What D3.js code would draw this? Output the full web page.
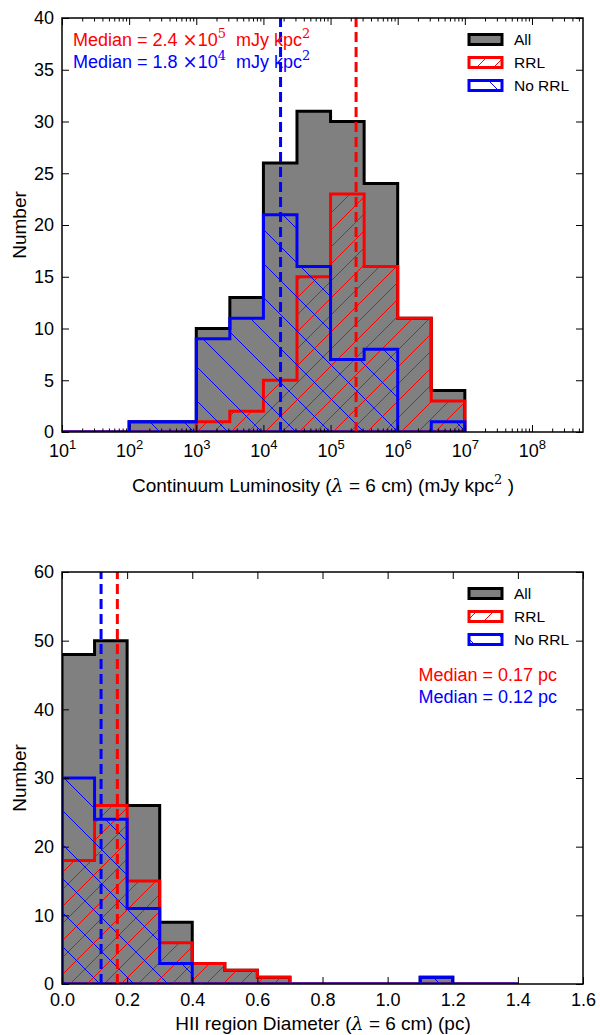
<!DOCTYPE html>
<html><head><meta charset="utf-8">
<script src="https://cdn.jsdelivr.net/npm/d3@7"></script>
<style>
body{margin:0;background:#fff}
text{font-family:"Liberation Sans",Arial,sans-serif}
</style>
</head><body>
<svg id="c" width="600" height="1035"></svg>
<script>
// ---------- DATA ----------
// Panel 1: continuum luminosity, bin edges as log10 exponents
const lumEdgeExp = [1, 1.5, 2, 2.5, 3, 3.5, 4, 4.5, 5, 5.5, 6, 6.5, 7];
const lumAll   = [0, 0, 1, 1, 10, 13, 26, 31, 30, 24, 11, 4];
const lumRRL   = [0, 0, 0, 0, 1, 2, 5, 15, 23, 16, 11, 3];
const lumNoRRL = [0, 0, 1, 1, 9, 11, 21, 16, 7, 8, 0, 1];
const lumMedianRRL = 2.4e5;
const lumMedianNoRRL = 1.8e4;
const lumMajorExp = [1, 2, 3, 4, 5, 6, 7, 8];
const lumYTicks = [0, 5, 10, 15, 20, 25, 30, 35, 40];

// Panel 2: HII region diameter (pc)
const diamEdges  = [0, 0.1, 0.2, 0.3, 0.4, 0.5, 0.6, 0.7, 0.8, 0.9, 1.0, 1.1, 1.2, 1.3, 1.4];
const diamAll    = [48, 50, 26, 9, 3, 2, 1, 0, 0, 0, 0, 1, 0, 0];
const diamRRL    = [18, 26, 15, 6, 3, 2, 1, 0, 0, 0, 0, 0, 0, 0];
const diamNoRRL  = [30, 24, 11, 3, 0, 0, 0, 0, 0, 0, 0, 1, 0, 0];
const diamMedianRRL = 0.17;
const diamMedianNoRRL = 0.12;
const diamXTicks = [0, 0.2, 0.4, 0.6, 0.8, 1.0, 1.2, 1.4, 1.6];
const diamYTicks = [0, 10, 20, 30, 40, 50, 60];

const legendLabels = ["All", "RRL", "No RRL"];

// ---------- STYLE ----------
const RED = "#ff0000", BLUE = "#0000ff", GRAY = "#808080";
const SERIF = "'DejaVu Serif', 'Liberation Serif', serif";

const svg = d3.select("#c");
const defs = svg.append("defs");

function hatch(id, color, s, dir) {
  const p = defs.append("pattern").attr("id", id)
    .attr("patternUnits", "userSpaceOnUse").attr("width", s).attr("height", s);
  const d = dir === "/"
    ? `M-1,1 l2,-2 M0,${s} l${s},${-s} M${s-1},${s+1} l2,-2`
    : `M-1,${s-1} l2,2 M0,0 l${s},${s} M${s-1},-1 l2,2`;
  p.append("path").attr("d", d).attr("stroke", color).attr("stroke-width", 1).attr("fill", "none");
}
hatch("hRed", RED, 17, "/");
hatch("hBlue", BLUE, 34, "\\");

function stepPath(edges, vals, x, y) {
  let d = `M${x(edges[0])},${y(0)}`;
  vals.forEach((v, i) => {
    d += `L${x(edges[i])},${y(v)}L${x(edges[i+1])},${y(v)}`;
  });
  d += `L${x(edges[edges.length-1])},${y(0)}Z`;
  return d;
}

function panel(o) {
  const {L, R, T, B} = o.box;
  const g = svg.append("g");
  const cid = "clip" + o.id;
  defs.append("clipPath").attr("id", cid).append("rect")
    .attr("x", L).attr("y", T).attr("width", R - L).attr("height", B - T);
  const x = o.x, y = o.y;
  const series = [
    {vals: o.all, fill: GRAY, stroke: "#000"},
    {vals: o.rrl, fill: "url(#hRed)", stroke: RED},
    {vals: o.norrl, fill: "url(#hBlue)", stroke: BLUE}
  ];
  const hg = g.append("g").attr("clip-path", `url(#${cid})`);
  series.forEach(s => {
    hg.append("path").attr("d", stepPath(o.edges, s.vals, x, y))
      .attr("fill", s.fill).attr("stroke", s.stroke).attr("stroke-width", 3)
      .attr("stroke-linejoin", "miter");
  });
  // medians (drawn from bottom upward)
  [[o.medRRL, RED], [o.medNoRRL, BLUE]].forEach(([m, c]) => {
    hg.append("line").attr("x1", x(m)).attr("x2", x(m))
      .attr("y1", y.range()[0]).attr("y2", y.range()[1])
      .attr("stroke", c).attr("stroke-width", 3).attr("stroke-dasharray", "10,5");
  });
  // axes
  const tk = 7;
  const ax = (gen, tx, ty) => {
    const a = g.append("g").attr("transform", `translate(${tx},${ty})`).call(gen);
    a.select(".domain").remove();
    a.selectAll("line").attr("stroke", "#000").attr("stroke-width", 1);
    return a;
  };
  const bottom = ax(d3.axisBottom(x).tickValues(o.xTicks).tickSizeInner(-tk).tickSizeOuter(0).tickPadding(10).tickFormat(o.xFmt || null), 0, B);
  ax(d3.axisTop(x).tickValues(o.xTicks).tickSizeInner(-tk).tickSizeOuter(0).tickFormat(""), 0, T);
  if (o.minor) {
    ax(d3.axisBottom(x).tickValues(o.minor).tickSizeInner(-tk/2).tickSizeOuter(0).tickFormat(""), 0, B);
    ax(d3.axisTop(x).tickValues(o.minor).tickSizeInner(-tk/2).tickSizeOuter(0).tickFormat(""), 0, T);
  }
  const left = ax(d3.axisLeft(y).tickValues(o.yTicks).tickSizeInner(-tk).tickSizeOuter(0).tickPadding(8), L, 0);
  ax(d3.axisRight(y).tickValues(o.yTicks).tickSizeInner(-tk).tickSizeOuter(0).tickFormat(""), R, 0);
  left.selectAll("text").attr("font-size", 18).attr("font-family", "Liberation Sans, Arial, sans-serif").attr("fill", "#000");
  bottom.selectAll("text").attr("font-size", 18).attr("font-family", "Liberation Sans, Arial, sans-serif").attr("fill", "#000");
  if (o.supLabels) {
    bottom.selectAll("text").each(function(d) {
      const t = d3.select(this);
      const e = Math.round(Math.log10(d));
      t.text(null).attr("dy", null).attr("y", o.xLabelBase);
      t.append("tspan").text("10");
      t.append("tspan").attr("font-size", 13).attr("dy", -8).text(e);
    });
  } else {
    bottom.selectAll("text").attr("dy", null).attr("y", o.xLabelBase);
  }
  // frame
  g.append("rect").attr("x", L).attr("y", T).attr("width", R - L).attr("height", B - T)
    .attr("fill", "none").attr("stroke", "#000").attr("stroke-width", 1.5);
  // y label
  g.append("text").attr("transform", `translate(26,${(T + B) / 2}) rotate(-90)`)
    .attr("text-anchor", "middle").attr("font-size", 19).text("Number");
  // legend
  const fills = [GRAY, "url(#hRed)", "url(#hBlue)"];
  const strokes = ["#000", RED, BLUE];
  const offs = [21.5, 44.5, 67.5];
  legendLabels.forEach((lab, i) => {
    const cy = T + offs[i];
    g.append("rect").attr("x", 469).attr("y", cy - 5).attr("width", 33).attr("height", 10)
      .attr("fill", fills[i]).attr("stroke", strokes[i]).attr("stroke-width", 3);
    g.append("text").attr("x", 514).attr("y", cy + 5.5).attr("font-size", 15.5).text(lab);
  });
  return g;
}

// ---------- PANEL 1 ----------
const box1 = {L: 62, R: 583, T: 18, B: 432};
const x1 = d3.scaleLog().domain([10, Math.pow(10, 8.76)]).range([box1.L, box1.R]);
const y1 = d3.scaleLinear().domain([0, 40]).range([box1.B, box1.T]);
const lumMajor = lumMajorExp.map(e => Math.pow(10, e));
const lumMinor = x1.ticks(10).filter(v => Math.abs(Math.log10(v) - Math.round(Math.log10(v))) > 1e-6);
const g1 = panel({
  id: 1, box: box1, x: x1, y: y1,
  edges: lumEdgeExp.map(e => Math.pow(10, e)),
  all: lumAll, rrl: lumRRL, norrl: lumNoRRL,
  medRRL: lumMedianRRL, medNoRRL: lumMedianNoRRL,
  xTicks: lumMajor, minor: lumMinor, yTicks: lumYTicks,
  supLabels: true, xLabelBase: 25
});
// x label panel 1
{
  const t = g1.append("text").attr("x", 323).attr("y", 492).attr("text-anchor", "middle")
    .attr("font-size", 19).attr("xml:space", "preserve");
  t.append("tspan").text("Continuum Luminosity (");
  t.append("tspan").attr("font-family", SERIF).attr("font-style", "italic").text("λ");
  t.append("tspan").text(" = 6 cm) (mJy kpc");
  t.append("tspan").attr("font-size", 13).attr("dy", -8).attr("font-family", SERIF).text("2");
  t.append("tspan").attr("dy", 8).text(" )");
}
// median annotations panel 1
function medText(g, xpos, ybase, color, num, exp) {
  const t = g.append("text").attr("x", xpos).attr("y", ybase).attr("fill", color)
    .attr("font-size", 18).attr("xml:space", "preserve");
  t.append("tspan").text(`Median = ${num} `);
  t.append("tspan").attr("font-family", SERIF).text("×");
  t.append("tspan").text("10");
  t.append("tspan").attr("font-size", 13).attr("dy", -8).attr("font-family", SERIF).text(exp);
  t.append("tspan").attr("dy", 8).text("  mJy kpc");
  t.append("tspan").attr("font-size", 13).attr("dy", -8).attr("font-family", SERIF).text("2");
}
medText(g1, 73, 46, RED, "2.4", "5");
medText(g1, 73, 68, BLUE, "1.8", "4");

// ---------- PANEL 2 ----------
const box2 = {L: 62, R: 583, T: 572, B: 984};
const x2 = d3.scaleLinear().domain([0, 1.6]).range([box2.L, box2.R]);
const y2 = d3.scaleLinear().domain([0, 60]).range([box2.B, box2.T]);
const g2 = panel({
  id: 2, box: box2, x: x2, y: y2,
  edges: diamEdges, all: diamAll, rrl: diamRRL, norrl: diamNoRRL,
  medRRL: diamMedianRRL, medNoRRL: diamMedianNoRRL,
  xTicks: diamXTicks, yTicks: diamYTicks, xFmt: d3.format(".1f"),
  supLabels: false, xLabelBase: 22
});
{
  const t = g2.append("text").attr("x", 323).attr("y", 1030).attr("text-anchor", "middle")
    .attr("font-size", 19).attr("xml:space", "preserve");
  t.append("tspan").text("HII region Diameter (");
  t.append("tspan").attr("font-family", SERIF).attr("font-style", "italic").text("λ");
  t.append("tspan").text(" = 6 cm) (pc)");
}
g2.append("text").attr("x", 557).attr("y", 681).attr("text-anchor", "end").attr("fill", RED)
  .attr("font-size", 18).text(`Median = ${diamMedianRRL.toFixed(2)} pc`);
g2.append("text").attr("x", 557).attr("y", 703).attr("text-anchor", "end").attr("fill", BLUE)
  .attr("font-size", 18).text(`Median = ${diamMedianNoRRL.toFixed(2)} pc`);
</script>
</body></html>
